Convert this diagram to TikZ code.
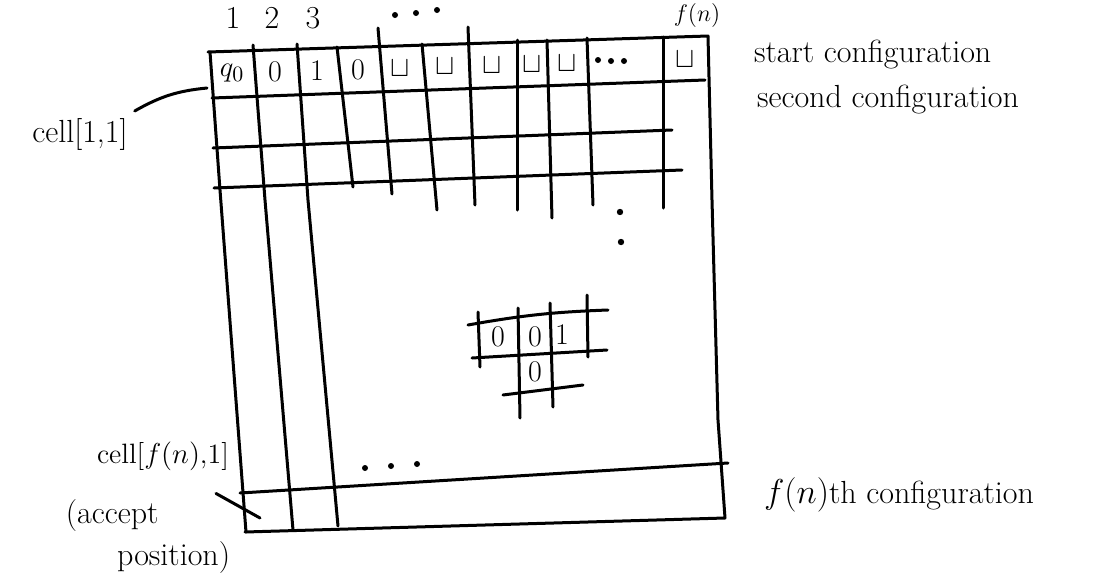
\documentclass[tikz,border=0pt]{standalone}
\begin{document}
\begin{tikzpicture}[x=0.5pt,y=-0.5pt,
  pen/.style={line width=1.5pt,line cap=round,line join=round},
  hand/.style={font=\fontsize{16}{21}\selectfont},
  sym/.style={font=\fontsize{15}{17}\selectfont}]
\useasboundingbox (0,0) rectangle (1094,574);
\draw[pen] (208,52) -- (708,36) -- (712,200) -- (718,420) -- (725,518) -- (245,532);
\draw[pen] (210,52) -- (220,190) -- (246,532);
\draw[pen] (253,45) -- (265,200) -- (293,530);
\draw[pen] (297,44) -- (308,200) -- (338,526);
\foreach \xa/\ya/\xb/\yb in {337/47/353/187,378/28/392/194,422/44/437/210,468/27/475/205,
  517/40/517/210,547/40/552/218,587/38/593/205,663/37/663/208}
  \draw[pen] (\xa,\ya) -- (\xb,\yb);
\draw[pen] (212,98) -- (705,80);
\draw[pen] (213,148) -- (672,130);
\draw[pen] (214,188) -- (682,170);
\draw[pen] (240,493) -- (728,463);
\foreach \x/\s [count=\i] in {232/$q_0$,275/0,317/1,358/0,400/$\sqcup$,445/$\sqcup$,
  492/$\sqcup$,532/$\sqcup$,567/$\sqcup$,685/$\sqcup$}
  \node[sym] (sym\i) at (\x,{74-15*(\x-210)/490}) {\s};
\foreach \x/\y in {598/60,611/61,624/61,395/15,416/13,437/10,365/468,391/466,417/464}
  \fill (\x,\y) circle (1.5pt);
\fill (620,212) circle (1.6pt);
\fill (621,242) circle (1.6pt);
\node[hand] (colA) at (233,18) {1};
\node[hand] (colB) at (272,18) {2};
\node[hand] (colC) at (313,18) {3};
\node[hand,font=\fontsize{13}{15}\selectfont] (colN) at (697,15) {$f(n)$};
\node[hand] (cellA) at (80,134) {cell[1,1]};
\coordinate (cellAend) at (207,88);
\draw[pen] (cellA.north east) to[bend left=12] (cellAend);
\node[hand,font=\fontsize{14}{17}\selectfont] (cellB) at (163,456) {cell[$f(n)$,1]};
\coordinate (cellBend) at (260,518);
\draw[pen] ([xshift=-10pt,yshift=-8pt]cellB.south east) -- (cellBend);
\node[hand,align=left] (acc) at (148,537) {(accept\\\hspace*{1.6em}position)};
\node[hand,anchor=west] (startconf) at (747,55) {start configuration};
\node[hand,anchor=west] (secconf) at (750,100) {second configuration};
\node[hand,anchor=west] (lastconf) at (757,495) {$f(n)$th configuration};
\draw[pen] (468,325) to[bend left=4] (608,310);
\draw[pen] (472,358) -- (607,350);
\draw[pen] (503,395) -- (583,385);
\draw[pen] (478,312) -- (480,367);
\draw[pen] (518,308) -- (520,418);
\draw[pen] (550,303) -- (553,407);
\draw[pen] (587,295) -- (588,357);
\node[sym] (winA) at (498,337) {0};
\node[sym] (winB) at (535,337) {0};
\node[sym] (winC) at (562,335) {1};
\node[sym] (winD) at (535,372) {0};
\end{tikzpicture}
\end{document}
